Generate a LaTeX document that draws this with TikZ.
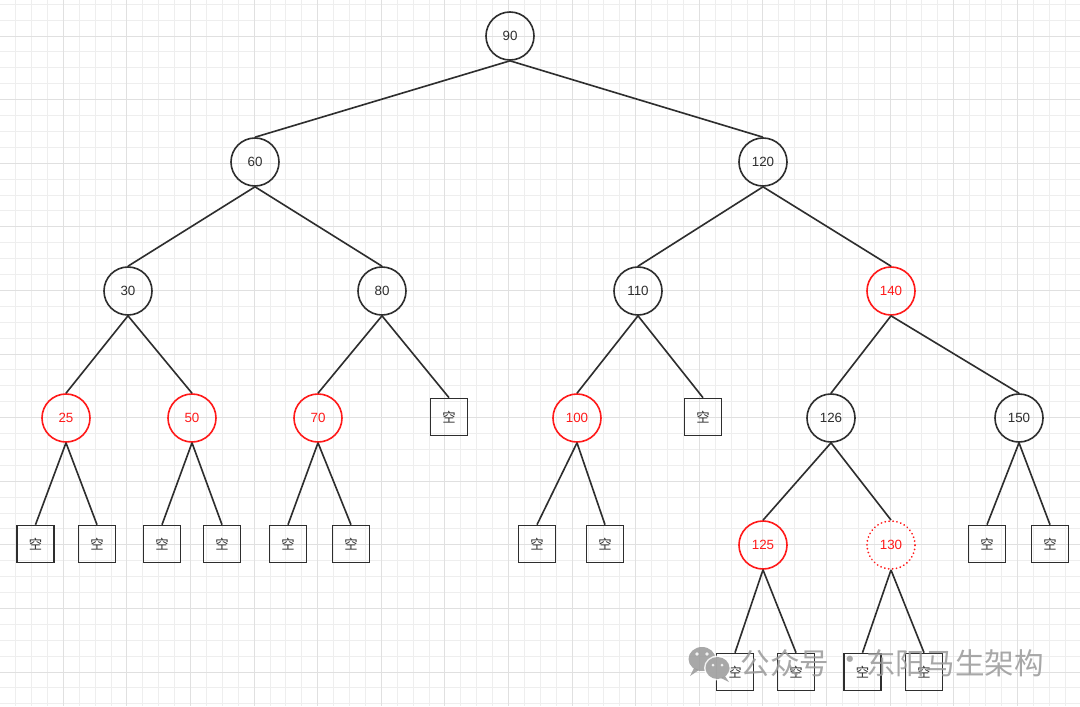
\documentclass[tikz,border=0pt]{standalone}
\usepackage{fontspec}
\setmainfont{Liberation Sans}
\newfontfamily\cjk{Noto Sans CJK SC}
\definecolor{gminor}{HTML}{EEEEEE}
\definecolor{gmajor}{HTML}{E0E0E0}
\definecolor{ink}{HTML}{2E2E2E}
\definecolor{rd}{HTML}{FF1A1A}
\definecolor{wm}{HTML}{999999}
\tikzset{
  bnode/.style={circle,draw=ink,line width=1.15pt,minimum size=1.2cm,inner sep=0pt,font=\fontsize{9.5}{9.5}\selectfont,text=ink},
  rnode/.style={bnode,draw=rd,text=rd},
  dnode/.style={bnode,draw=rd,text=rd,dash pattern=on 0.01pt off 2.8pt,line cap=round,line width=1.4pt},
  leaf/.style={rectangle,draw=ink,line width=1.15pt,minimum size=0.925cm,inner sep=0pt,font=\cjk\fontsize{9.5}{9.5}\selectfont,text=ink},
  edge/.style={draw=ink,line width=1.15pt},
  gminorline/.style={draw=gminor,line width=0.7pt},
  gmajorline/.style={draw=gmajor,line width=0.7pt},
  wmtext/.style={font=\cjk\fontsize{21}{21}\selectfont,text=wm,opacity=0.85,inner sep=0pt}
}
\begin{document}
\begin{tikzpicture}[x=0.025cm,y=-0.025cm]
\useasboundingbox (0,0) rectangle (1080,706);
\fill[white] (0,0) rectangle (1080,706);
% grid
\foreach \i in {0,...,68} {\draw[gminorline] ({-0.3+15.9*\i},0) -- ({-0.3+15.9*\i},706);}
\foreach \i in {2,...,46} {\draw[gminorline] (0,{-27.6+15.9*\i}) -- (1080,{-27.6+15.9*\i});}
\foreach \i in {0,4,...,68} {\draw[gmajorline] ({-0.3+15.9*\i},0) -- ({-0.3+15.9*\i},706);}
\foreach \i in {4,8,...,46} {\draw[gmajorline] (0,{-27.6+15.9*\i}) -- (1080,{-27.6+15.9*\i});}
% nodes
\node[bnode] (n90) at (510,36) {90};
\node[bnode] (n60) at (255,162) {60};
\node[bnode] (n120) at (763,162) {120};
\node[bnode] (n30) at (128,291) {30};
\node[bnode] (n80) at (382,291) {80};
\node[bnode] (n110) at (638,291) {110};
\node[rnode] (n140) at (891,291) {140};
\node[rnode] (n25) at (66,418) {25};
\node[rnode] (n50) at (192,418) {50};
\node[rnode] (n70) at (318,418) {70};
\node[leaf] (e80) at (449,417) {空};
\node[rnode] (n100) at (577,418) {100};
\node[leaf] (e110) at (703,417) {空};
\node[bnode] (n126) at (831,418) {126};
\node[bnode] (n150) at (1019,418) {150};
\node[leaf] (l1) at (35.5,544) {空};
\node[leaf] (l2) at (97,544) {空};
\node[leaf] (l3) at (162,544) {空};
\node[leaf] (l4) at (222,544) {空};
\node[leaf] (l5) at (288,544) {空};
\node[leaf] (l6) at (351,544) {空};
\node[leaf] (l7) at (537,544) {空};
\node[leaf] (l8) at (605,544) {空};
\node[rnode] (n125) at (763,545) {125};
\node[dnode] (n130) at (891,545) {130};
\node[leaf] (l9) at (987,544) {空};
\node[leaf] (l10) at (1050,544) {空};
\node[leaf] (l11) at (735,672) {空};
\node[leaf] (l12) at (796,672) {空};
\node[leaf] (l13) at (862.5,672) {空};
\node[leaf] (l14) at (924,672) {空};
% edges
\foreach \p/\c in {n90/n60,n90/n120,n60/n30,n60/n80,n120/n110,n120/n140,
  n30/n25,n30/n50,n80/n70,n80/e80,n110/n100,n110/e110,n140/n126,n140/n150,
  n25/l1,n25/l2,n50/l3,n50/l4,n70/l5,n70/l6,n100/l7,n100/l8,n126/n125,n126/n130,
  n150/l9,n150/l10,n125/l11,n125/l12,n130/l13,n130/l14}
  {\draw[edge] (\p.south) -- (\c.north);}
% watermark
\begin{scope}[opacity=0.85]
\fill[wm] (702,659) ellipse (13.5 and 12);
\fill[wm] (694,668) -- (690,676) -- (699,670) -- cycle;
\fill[white] (717.5,668) ellipse (13.5 and 12.5);
\fill[wm] (717.5,668) ellipse (12 and 11);
\fill[wm] (725,676) -- (729,682) -- (721,678) -- cycle;
\fill[white] (697,654) circle (1.8);
\fill[white] (707,654) circle (1.8);
\fill[white] (713,665) circle (1.5);
\fill[white] (722,665) circle (1.5);
\end{scope}
\node[wmtext] (wm1) at (785,663) {公众号};
\node[wmtext] (wm2) at (850,663) {·};
\node[wmtext] (wm3) at (955,663) {东阳马生架构};
\end{tikzpicture}
\end{document}
